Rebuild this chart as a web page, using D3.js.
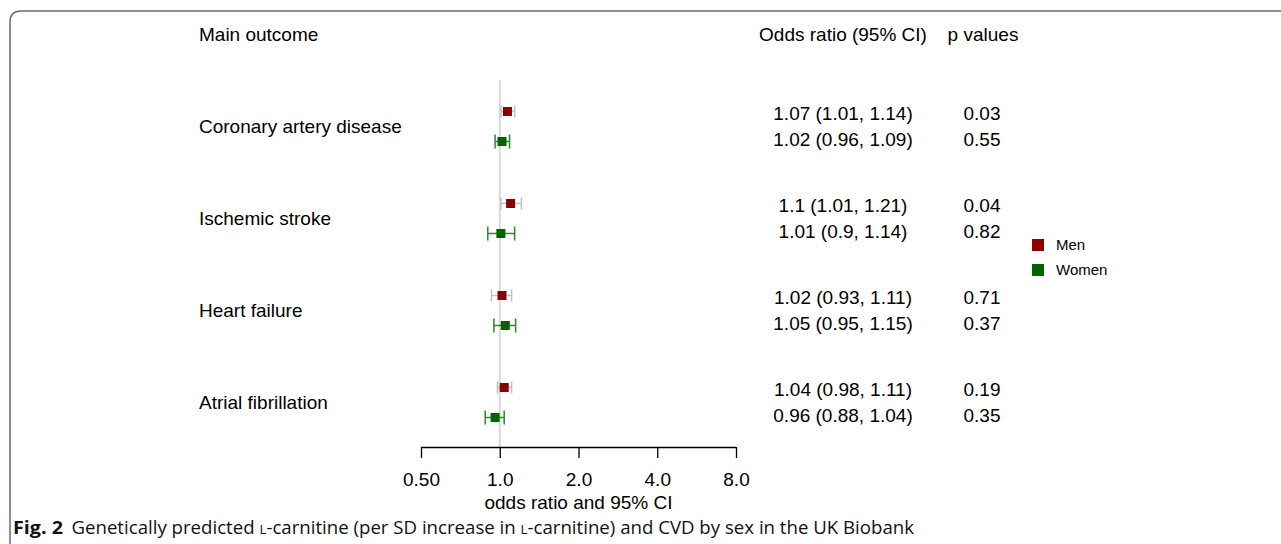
<!DOCTYPE html>
<html><head><meta charset="utf-8">
<script src="https://cdn.jsdelivr.net/npm/d3@7"></script>
<style>body{margin:0;background:#fff}svg{display:block}</style>
</head><body>
<script>
const outcomes = ["Coronary artery disease","Ischemic stroke","Heart failure","Atrial fibrillation"];
const groups = ["Men","Women"];
const menOR =   [1.07, 1.10, 1.02, 1.04];
const menLo =   [1.01, 1.01, 0.93, 0.98];
const menHi =   [1.14, 1.21, 1.11, 1.11];
const menP =    ["0.03","0.04","0.71","0.19"];
const menTxt =  ["1.07 (1.01, 1.14)","1.1 (1.01, 1.21)","1.02 (0.93, 1.11)","1.04 (0.98, 1.11)"];
const womenOR = [1.02, 1.01, 1.05, 0.96];
const womenLo = [0.96, 0.90, 0.95, 0.88];
const womenHi = [1.09, 1.14, 1.15, 1.04];
const womenP =  ["0.55","0.82","0.37","0.35"];
const womenTxt =["1.02 (0.96, 1.09)","1.01 (0.9, 1.14)","1.05 (0.95, 1.15)","0.96 (0.88, 1.04)"];
const tickVals = [0.5, 1, 2, 4, 8];
const tickLabels = ["0.50","1.0","2.0","4.0","8.0"];
const colors = {Men:"#8B0000", Women:"#006400"};
const ciColors = {Men:"#c0c0c0", Women:"#2a8a2a"};

const W = 1281, H = 544;
const svg = d3.select("body").append("svg").attr("width", W).attr("height", H);
const font = "'Liberation Sans', Arial, Helvetica, sans-serif";
const fs = 19;

// frame
svg.append("path")
  .attr("d", `M10,${H} L10,22 Q10,11 21,11 L${W+5},11`)
  .attr("fill","none").attr("stroke","#6b6b6b").attr("stroke-width",1.5);

const x = d3.scaleLog().base(2).domain([0.5, 8]).range([421, 736]);
const yOut = d3.scaleBand().domain(outcomes).range([80, 448]);
const yG = d3.scalePoint().domain(groups).range([-15, 15]);
const yT = d3.scalePoint().domain(groups).range([-13, 13]);
const mid = o => yOut(o) + yOut.bandwidth()/2;
const rowY = (o, g) => mid(o) + yG(g) + 0.5;

// headers
const hdr = svg.append("g").attr("font-family", font).attr("font-size", fs).attr("fill","#000");
hdr.append("text").attr("x",199).attr("y",41).text("Main outcome");
hdr.append("text").attr("x",843).attr("y",41).attr("text-anchor","middle").text("Odds ratio (95% CI)");
hdr.append("text").attr("x",983).attr("y",41).attr("text-anchor","middle").text("p values");

// outcome labels
svg.append("g").selectAll("text").data(outcomes).join("text")
  .attr("x",199).attr("y", d => mid(d) + 7)
  .attr("font-family", font).attr("font-size", fs).text(d => d);

// reference line
svg.append("line").attr("x1", x(1)).attr("x2", x(1)).attr("y1", 80).attr("y2", 447)
  .attr("stroke","#d9d9d9").attr("stroke-width",2);

// axis
const axis = d3.axisBottom(x).tickValues(tickVals).tickFormat((d,i) => tickLabels[i]).tickSize(11).tickPadding(15);
const ax = svg.append("g").attr("transform","translate(0,447)").call(axis);
ax.select(".domain").attr("stroke","#000").attr("stroke-width",1.3).attr("d", `M${x(0.5)},0.5H${x(8)}`);
ax.selectAll(".tick line").attr("stroke","#000").attr("stroke-width",1.3);
ax.selectAll(".tick text").attr("font-family", font).attr("font-size", fs).attr("fill","#000");
svg.append("text").attr("x", x(2)).attr("y", 509).attr("text-anchor","middle")
  .attr("font-family", font).attr("font-size", fs).text("odds ratio and 95% CI");

// data rows
const rows = [];
outcomes.forEach((o,i) => {
  rows.push({o, g:"Men", or:menOR[i], lo:menLo[i], hi:menHi[i], p:menP[i], t:menTxt[i]});
  rows.push({o, g:"Women", or:womenOR[i], lo:womenLo[i], hi:womenHi[i], p:womenP[i], t:womenTxt[i]});
});
const rg = svg.append("g").selectAll("g").data(rows).join("g");
rg.append("line").attr("x1", d => x(d.lo)).attr("x2", d => x(d.hi))
  .attr("y1", d => rowY(d.o,d.g)).attr("y2", d => rowY(d.o,d.g))
  .attr("stroke", d => ciColors[d.g]).attr("stroke-width",1.5);
["lo","hi"].forEach(k => {
  rg.append("line").attr("x1", d => x(d[k])).attr("x2", d => x(d[k]))
    .attr("y1", d => rowY(d.o,d.g) - (d.g==="Men"?6:7)).attr("y2", d => rowY(d.o,d.g) + (d.g==="Men"?6:7))
    .attr("stroke", d => ciColors[d.g]).attr("stroke-width",1.5);
});
rg.append("rect").attr("x", d => x(d.or)-4.5).attr("y", d => rowY(d.o,d.g)-4.5)
  .attr("width",9).attr("height",9).attr("fill", d => colors[d.g]);
rg.append("text").attr("x",843).attr("y", d => mid(d.o) + yT(d.g) + 7).attr("text-anchor","middle")
  .attr("font-family", font).attr("font-size", fs).text(d => d.t);
rg.append("text").attr("x",982).attr("y", d => mid(d.o) + yT(d.g) + 7).attr("text-anchor","middle")
  .attr("font-family", font).attr("font-size", fs).text(d => d.p);

// legend
const lg = svg.append("g").selectAll("g").data(groups).join("g")
  .attr("transform", (d,i) => `translate(1032,${239 + i*25})`);
lg.append("rect").attr("width",12).attr("height",12).attr("fill", d => colors[d]);
lg.append("text").attr("x",24).attr("y",11).attr("font-family", font).attr("font-size",15).text(d => d);

// caption
const cap = svg.append("text").attr("x",13).attr("y",534)
  .attr("font-family","'Open Sans', 'Noto Sans', sans-serif").attr("font-size",17.5).attr("fill","#111")
  .attr("textLength", 901).attr("lengthAdjust","spacingAndGlyphs");
cap.append("tspan").attr("font-weight","bold").attr("font-size",18.5).text("Fig. 2");
cap.append("tspan").attr("dx",8).text("Genetically predicted ");
cap.append("tspan").attr("font-size",12.5).text("L");
cap.append("tspan").text("-carnitine (per SD increase in ");
cap.append("tspan").attr("font-size",12.5).text("L");
cap.append("tspan").text("-carnitine) and CVD by sex in the UK Biobank");
</script>
</body></html>
